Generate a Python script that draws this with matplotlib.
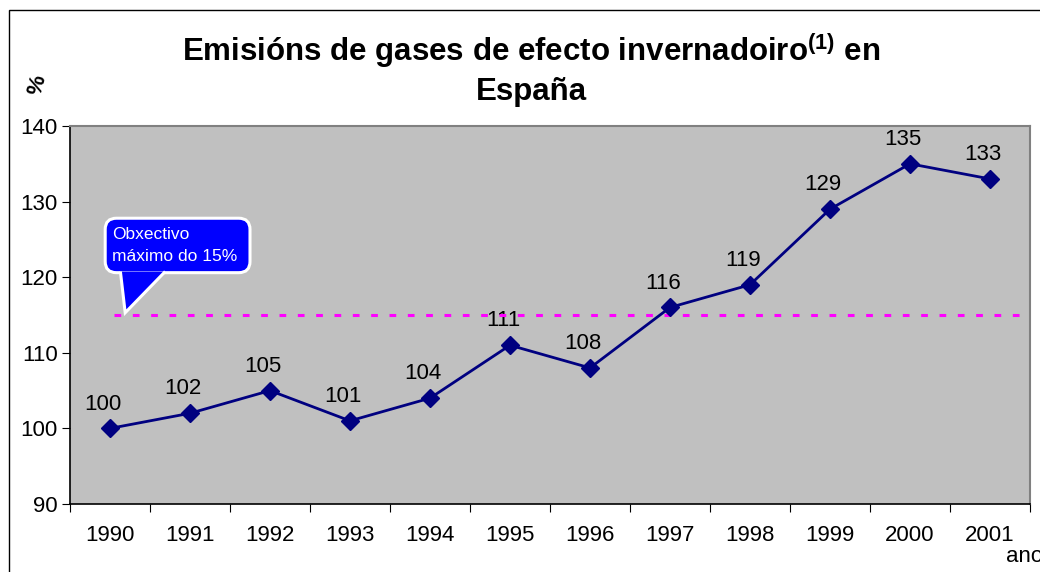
import numpy as np
import matplotlib
matplotlib.use("Agg")
import matplotlib.pyplot as plt
from matplotlib.patches import Rectangle, FancyBboxPatch, Polygon

plt.rcParams['font.family'] = ['Liberation Sans', 'DejaVu Sans']
plt.rcParams['mathtext.fontset'] = 'custom'
plt.rcParams['mathtext.rm'] = 'Liberation Sans'
plt.rcParams['mathtext.bf'] = 'Liberation Sans:bold'

# data
years = ["1990", "1991", "1992", "1993", "1994", "1995",
         "1996", "1997", "1998", "1999", "2000", "2001"]
emisions = [100, 102, 105, 101, 104, 111, 108, 116, 119, 129, 135, 133]
obxectivo = 115
yticks = [90, 100, 110, 120, 130, 140]

fig = plt.figure(figsize=(10.4, 5.72), dpi=100)
fig.patch.set_facecolor("white")

# outer chart frame (right/bottom edges fall outside the picture)
fig.patches.append(Rectangle((9 / 1040, -0.1), 1.2, 0.1 + 1 - 10 / 572,
                             transform=fig.transFigure, fill=False,
                             edgecolor="black", linewidth=1.0, clip_on=False))

ax = fig.add_axes([70 / 1040, 1 - 504 / 572, 960 / 1040, 378 / 572])
ax.set_facecolor("#C0C0C0")

x = np.arange(len(years))
ax.plot(x, emisions, color="#000080", linewidth=2, marker="D",
        markersize=9.5, markerfacecolor="#000080", markeredgecolor="#000080",
        zorder=4)

for xi, v in zip(x, emisions):
    ax.annotate(str(v), (xi, v), xytext=(-5, 10), textcoords="offset points",
                ha="center", va="bottom", fontsize=16, color="black")

# target line
ax.plot([0.05, 11.4], [obxectivo, obxectivo], color="#FF00FF",
        linewidth=2.2, linestyle=(0, (2.2, 3.8)), zorder=3)

# callout: rounded box + tail pointing at the target line
box_x0, box_x1 = -0.06, 1.75
box_y0, box_y1 = 120.6, 127.8
ax.add_patch(FancyBboxPatch((box_x0, box_y0), box_x1 - box_x0, box_y1 - box_y0,
                            boxstyle="round,pad=0,rounding_size=0.14",
                            mutation_aspect=50 / 378 * 960 / 12,
                            fc="#0000FF", ec="white", lw=2.2, zorder=5))
ax.add_patch(Polygon([(0.69, box_y0 + 0.15), (0.19, obxectivo + 0.3),
                      (0.13, box_y0 + 0.15)], closed=False,
                     fc="#0000FF", ec="white", lw=2.2, zorder=6))
ax.text(box_x0 + 0.09, (box_y0 + box_y1) / 2, "Obxectivo\nmáximo do 15%",
        ha="left", va="center", fontsize=12.5, color="white",
        linespacing=1.6, zorder=7)

ax.set_xlim(-0.5, len(years) - 0.5)
ax.set_ylim(90, 140)
ax.set_yticks(yticks)
ax.set_yticklabels([str(t) for t in yticks])

ax.set_xticks(np.arange(-0.5, len(years), 1.0))
ax.set_xticklabels([])
ax.set_xticks(x, minor=True)
ax.set_xticklabels(years, minor=True)
ax.tick_params(axis="x", which="major", length=6, direction="out", color="black")
ax.tick_params(axis="x", which="minor", length=0, pad=15, labelsize=16)
ax.tick_params(axis="y", length=6, direction="out", labelsize=16, pad=3)

for side in ["top", "right"]:
    ax.spines[side].set_color("#808080")
    ax.spines[side].set_linewidth(1.5)
for side in ["left", "bottom"]:
    ax.spines[side].set_color("black")
    ax.spines[side].set_linewidth(1.2)

fig.text(531 / 1040, 1 - 50 / 572,
         r"Emisións de gases de efecto invernadoiro$^{\mathbf{(1)}}$ en",
         ha="center", va="center", fontsize=22.5, fontweight="bold")
fig.text(531 / 1040, 1 - 92 / 572, "España",
         ha="center", va="center", fontsize=22.5, fontweight="bold")
fig.text(38 / 1040, 1 - 85 / 572, "%", rotation=75, ha="center", va="center",
         fontsize=16, fontweight="bold")
fig.text(1006 / 1040, 1 - 557 / 572, "ano", ha="left", va="center", fontsize=16)

fig.savefig("out.png", dpi=100)
